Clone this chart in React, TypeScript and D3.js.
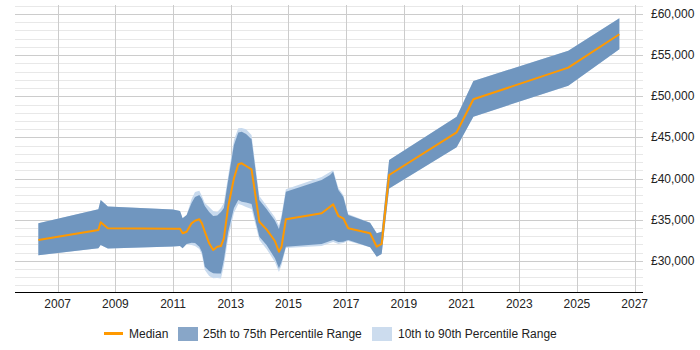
import { useEffect, useRef } from "react";
import * as d3 from "d3";

// decimal years of each sample
const years = [
  2006.33, 2008.41, 2008.49, 2008.74, 2011.0, 2011.24, 2011.33, 2011.47, 2011.64, 2011.76, 2011.91,
  2012.0, 2012.1, 2012.25, 2012.39, 2012.53, 2012.66, 2012.76, 2012.91, 2013.11, 2013.26, 2013.38,
  2013.53, 2013.72, 2013.99, 2014.24, 2014.53, 2014.67, 2014.76, 2014.91, 2016.15, 2016.44, 2016.55,
  2016.73, 2016.9, 2017.07, 2017.83, 2018.06, 2018.23, 2018.49, 2020.83, 2021.41, 2024.7, 2026.47,
];

const median = [
  32520, 33740, 34680, 33950, 33900, 33900, 33340, 33530, 34550, 34870, 35040,
  34550, 33530, 32120, 31310, 31710, 31790, 32730, 36570, 40030, 41730, 41850,
  41520, 41120, 34750, 33820, 32400, 31100, 31710, 35040, 35770, 36570, 36860,
  35440, 35160, 33950, 33340, 31710, 32040, 40430, 45620, 49630, 53480, 57540,
];

const p25 = [
  30660, 31510, 31920, 31490, 31730, 31790, 31510, 32040, 32200, 32160, 31710,
  31060, 29280, 28750, 28470, 28450, 28450, 30090, 33500, 36410, 37390, 37180,
  37080, 36900, 32920, 31920, 30300, 29080, 29850, 31710, 32040, 32400, 32520,
  32280, 32320, 32520, 31640, 30490, 30820, 38790, 43800, 47520, 51290, 55710,
];

const p75 = [
  34550, 36260, 37390, 36600, 36230, 36050, 35160, 35560, 37020, 37750, 38000,
  37510, 36660, 35920, 35440, 35500, 35930, 36410, 39820, 44080, 45600, 45690,
  45410, 44770, 37390, 36290, 34890, 33860, 35200, 38400, 39820, 40430, 40830,
  38600, 37790, 35560, 34630, 33340, 33530, 42250, 47520, 51860, 55540, 59480,
];

const p10 = [
  30660, 31510, 31920, 31490, 31730, 31790, 31510, 32040, 31920, 31790, 31430,
  30700, 28880, 28150, 27870, 27900, 27840, 29360, 32770, 35810, 36900, 36780,
  36540, 36290, 32520, 31430, 29850, 28630, 29480, 31550, 31790, 32160, 32280,
  32040, 32160, 32400, 31640, 30490, 30820, 38790, 43800, 47520, 51290, 55710,
];

const p90 = [
  34550, 36260, 37390, 36600, 36230, 36050, 35160, 35560, 37510, 38360, 38520,
  37870, 37020, 36540, 36050, 35930, 36410, 37020, 40310, 44680, 46110, 46140,
  45980, 45290, 37870, 36700, 35300, 34300, 35600, 38690, 40180, 40790, 41040,
  38850, 38000, 35690, 34630, 33340, 33530, 42250, 47520, 51860, 55540, 59480,
];

const xTicks = [2007, 2009, 2011, 2013, 2015, 2017, 2019, 2021, 2023, 2025, 2027];
const yTicks = [30000, 35000, 40000, 45000, 50000, 55000, 60000];

const legendItems = ["Median", "25th to 75th Percentile Range", "10th to 90th Percentile Range"];

const FONT = "'Liberation Sans', Arial, sans-serif";

const App = () => {
  const ref = useRef<SVGSVGElement>(null);

  useEffect(() => {
    const svg = d3.select(ref.current);
    svg.selectAll("*").remove();

    const left = 15;
    const right = 643;
    const top = 5;
    const bottom = 292;

    const x = d3.scaleLinear().domain([2005.52, 2027.29]).range([left, right]);
    const y = d3.scaleLinear().domain([26200, 61100]).range([bottom, top]);

    const rows = years.map((yr, i) => ({
      yr,
      med: median[i],
      lo: p25[i],
      hi: p75[i],
      lo10: p10[i],
      hi90: p90[i],
    }));

    // grid
    const grid = svg.append("g");
    d3.range(27000, 61001, 1000).forEach((v) => {
      grid
        .append("line")
        .attr("x1", left)
        .attr("x2", right)
        .attr("y1", Math.round(y(v)) + 0.5)
        .attr("y2", Math.round(y(v)) + 0.5)
        .attr("stroke", v % 5000 === 0 ? "#cccccc" : "#e8e8e8")
        .attr("stroke-width", 1);
    });
    xTicks.forEach((t) => {
      grid
        .append("line")
        .attr("x1", Math.round(x(t)) + 0.5)
        .attr("x2", Math.round(x(t)) + 0.5)
        .attr("y1", top)
        .attr("y2", bottom)
        .attr("stroke", "#cccccc");
    });

    const area10 = d3
      .area<any>()
      .x((d) => x(d.yr))
      .y0((d) => y(d.lo10))
      .y1((d) => y(d.hi90));
    const area25 = d3
      .area<any>()
      .x((d) => x(d.yr))
      .y0((d) => y(d.lo))
      .y1((d) => y(d.hi));
    const line = d3
      .line<any>()
      .x((d) => x(d.yr))
      .y((d) => y(d.med));

    svg.append("path").attr("d", area10(rows)).attr("fill", "#c8daee");
    svg.append("path").attr("d", area25(rows)).attr("fill", "#7096bf");
    svg
      .append("path")
      .attr("d", line(rows))
      .attr("fill", "none")
      .attr("stroke", "#ff9900")
      .attr("stroke-width", 2)
      .attr("stroke-linejoin", "round");

    // x axis
    svg
      .append("line")
      .attr("x1", left)
      .attr("x2", right)
      .attr("y1", bottom + 0.5)
      .attr("y2", bottom + 0.5)
      .attr("stroke", "#000");
    xTicks.forEach((t) => {
      svg
        .append("text")
        .attr("x", x(t))
        .attr("y", 308)
        .attr("text-anchor", "middle")
        .attr("font-family", FONT)
        .attr("font-size", "12px")
        .attr("fill", "#222")
        .text(String(t));
    });

    // y labels on the right
    const fmt = d3.format(",");
    yTicks.forEach((v) => {
      svg
        .append("text")
        .attr("x", 651)
        .attr("y", y(v) + 4)
        .attr("font-family", FONT)
        .attr("font-size", "12px")
        .attr("fill", "#222")
        .text("£" + fmt(v));
    });

    // legend
    const lg = svg.append("g").attr("font-family", FONT).attr("font-size", "12px").attr("fill", "#222");
    lg.append("line")
      .attr("x1", 104)
      .attr("x2", 123)
      .attr("y1", 333.5)
      .attr("y2", 333.5)
      .attr("stroke", "#ff9900")
      .attr("stroke-width", 3);
    lg.append("text").attr("x", 129).attr("y", 338).text(legendItems[0]);
    lg.append("rect").attr("x", 178).attr("y", 327).attr("width", 20).attr("height", 14).attr("fill", "#88a6c8");
    lg.append("text").attr("x", 203).attr("y", 338).text(legendItems[1]);
    lg.append("rect").attr("x", 372).attr("y", 327).attr("width", 20).attr("height", 14).attr("fill", "#ccdcee");
    lg.append("text").attr("x", 398).attr("y", 338).text(legendItems[2]);
  }, []);

  return (
    <svg
      ref={ref}
      width={700}
      height={350}
      style={{ position: "absolute", left: 0, top: 0, background: "#fff" }}
    ></svg>
  );
};

export default App;
